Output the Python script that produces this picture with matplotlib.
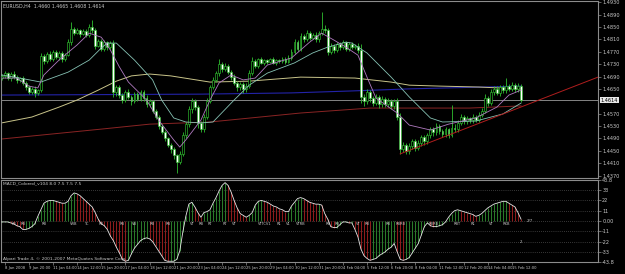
import matplotlib
matplotlib.use('Agg')
from matplotlib import pyplot as plt
from matplotlib.transforms import blended_transform_factory

# EURUSD H4, 8 Jan - 15 Feb 2008, closes
closes = [1.4692, 1.4701, 1.4685, 1.4698, 1.4688, 1.4679, 1.4685, 1.4668, 1.4655, 1.4640,
          1.4650, 1.4636, 1.4645, 1.4755, 1.4740, 1.4762, 1.4748, 1.4770, 1.4752, 1.4765,
          1.4745, 1.4760, 1.4800, 1.4845, 1.4832, 1.4840, 1.4828, 1.4836, 1.4825, 1.4850,
          1.4840, 1.4790, 1.4805, 1.4780, 1.4800, 1.4785, 1.4798, 1.4640, 1.4655, 1.4630,
          1.4615, 1.4640, 1.4625, 1.4610, 1.4632, 1.4618, 1.4640, 1.4622, 1.4600, 1.4610,
          1.4580, 1.4560, 1.4530, 1.4510, 1.4490, 1.4470, 1.4455, 1.4435, 1.4415, 1.4440,
          1.4500, 1.4535, 1.4585, 1.4610, 1.4590, 1.4540, 1.4520, 1.4560, 1.4610, 1.4655,
          1.4680, 1.4700, 1.4730, 1.4715, 1.4725, 1.4705, 1.4690, 1.4670, 1.4655, 1.4665,
          1.4648, 1.4660, 1.4700, 1.4740, 1.4725, 1.4745, 1.4735, 1.4742, 1.4738, 1.4745,
          1.4735, 1.4742, 1.4740, 1.4748, 1.4738, 1.4750, 1.4770, 1.4800, 1.4780, 1.4820,
          1.4810, 1.4830, 1.4815, 1.4825, 1.4810, 1.4830, 1.4845, 1.4840, 1.4770, 1.4790,
          1.4775, 1.4795, 1.4785, 1.4800, 1.4780, 1.4795, 1.4785, 1.4790, 1.4775, 1.4625,
          1.4610, 1.4640, 1.4620, 1.4605, 1.4625, 1.4600, 1.4618, 1.4600, 1.4612, 1.4595,
          1.4610, 1.4560, 1.4455, 1.4470, 1.4450, 1.4465, 1.4480, 1.4460, 1.4475, 1.4495,
          1.4480, 1.4500, 1.4520, 1.4510, 1.4530, 1.4515, 1.4505, 1.4520, 1.4500, 1.4525,
          1.4520, 1.4540, 1.4560, 1.4545, 1.4555, 1.4548, 1.4560, 1.4550, 1.4565, 1.4580,
          1.4620, 1.4605, 1.4640, 1.4650, 1.4638, 1.4655, 1.4645, 1.4660, 1.4650, 1.4662,
          1.4648, 1.4660, 1.4614]
first_open = 1.4685
# wick lengths in pips
upper_wick = [6, 8, 5, 7, 9, 6, 5, 8, 6, 7,
              5, 8, 6, 10, 8, 6, 9, 7, 6, 8,
              7, 5, 12, 20, 6, 8, 5, 7, 6, 9,
              21, 8, 7, 6, 9, 5, 8, 10, 7, 6,
              8, 5, 9, 6, 7, 8, 6, 5, 7, 6,
              5, 6, 4, 5, 6, 4, 5, 6, 5, 8,
              10, 8, 9, 12, 7, 8, 6, 9, 10, 8,
              9, 8, 15, 6, 9, 7, 6, 8, 7, 6,
              8, 9, 10, 12, 6, 5, 7, 4, 6, 5,
              7, 5, 6, 4, 6, 8, 9, 12, 7, 10,
              8, 9, 6, 7, 8, 6, 52, 10, 8, 7,
              6, 8, 5, 7, 6, 8, 5, 6, 7, 20,
              8, 10, 6, 7, 9, 6, 8, 5, 7, 6,
              8, 9, 12, 8, 6, 9, 7, 8, 10, 6,
              7, 9, 8, 6, 9, 7, 6, 8, 5, 72,
              10, 8, 9, 6, 7, 5, 8, 6, 9, 8,
              12, 7, 10, 8, 9, 6, 8, 25, 7, 9,
              6, 8, 5]
lower_wick = [5, 7, 6, 8, 5, 9, 6, 7, 10, 8,
              6, 12, 7, 5, 9, 6, 8, 7, 6, 9,
              8, 6, 5, 7, 8, 6, 9, 5, 7, 6,
              8, 10, 6, 9, 7, 8, 6, 15, 12, 8,
              10, 7, 9, 11, 6, 8, 7, 10, 9, 8,
              9, 8, 10, 7, 9, 8, 12, 10, 37, 9,
              8, 10, 7, 12, 9, 15, 10, 8, 6, 7,
              6, 8, 7, 9, 6, 8, 10, 9, 12, 8,
              10, 7, 6, 5, 7, 6, 5, 7, 6, 5,
              6, 7, 5, 6, 7, 5, 6, 7, 8, 6,
              7, 6, 8, 5, 9, 7, 6, 8, 10, 7,
              8, 6, 9, 7, 6, 8, 7, 6, 9, 20,
              15, 9, 12, 10, 8, 11, 9, 10, 8, 9,
              10, 12, 15, 10, 12, 9, 8, 11, 9, 8,
              10, 8, 9, 11, 8, 10, 9, 12, 8, 7,
              9, 8, 7, 10, 8, 9, 7, 8, 6, 7,
              8, 10, 7, 9, 8, 10, 7, 9, 8, 6,
              9, 7, 6]

# moving averages (bar index, price)
ma_fast_i = [0, 5, 9, 12, 14, 19, 25, 29, 33, 36, 39, 42, 48, 52, 57, 59, 61, 66, 69, 72,
             76, 80, 84, 88, 96, 102, 106, 110, 114, 118, 121, 124, 131, 135, 142, 148, 157, 164, 168, 172]
ma_fast_p = [1.4685, 1.4685, 1.4659, 1.4653, 1.4695, 1.4743, 1.4792, 1.4830, 1.4817, 1.4776,
             1.4721, 1.4672, 1.4614, 1.4549, 1.4485, 1.4462, 1.4485, 1.4549, 1.4614, 1.4669,
             1.4695, 1.4679, 1.4685, 1.4727, 1.4750, 1.4801, 1.4830, 1.4808, 1.4785, 1.4759,
             1.4688, 1.4620, 1.4572, 1.4533, 1.4517, 1.4536, 1.4556, 1.4591, 1.4630, 1.4646]
ma_mid_i = [0, 6, 13, 22, 29, 33, 35, 38, 44, 50, 53, 57, 61, 66, 70, 77, 82, 88, 97, 103,
            108, 114, 116, 121, 129, 135, 142, 146, 157, 166, 172]
ma_mid_p = [1.4695, 1.4685, 1.4672, 1.4704, 1.4743, 1.4782, 1.4798, 1.4798, 1.4743, 1.4679,
            1.4614, 1.4556, 1.4543, 1.4540, 1.4543, 1.4614, 1.4662, 1.4701, 1.4734, 1.4766,
            1.4785, 1.4801, 1.4798, 1.4766, 1.4688, 1.4624, 1.4556, 1.4543, 1.4546, 1.4569, 1.4604]
ma_slow_i = [0, 10, 19, 25, 32, 38, 43, 49, 56, 69, 82, 99, 117, 129, 135, 145, 158, 172]
ma_slow_p = [1.4540, 1.4559, 1.4591, 1.4614, 1.4646, 1.4675, 1.4692, 1.4698, 1.4692, 1.4672,
             1.4675, 1.4688, 1.4685, 1.4672, 1.4662, 1.4659, 1.4656, 1.4650]
ma_long_i = [0, 33, 49, 69, 99, 122, 135, 155, 172]
ma_long_p = [1.4488, 1.4520, 1.4536, 1.4543, 1.4572, 1.4588, 1.4588, 1.4588, 1.4595]
ma_blue_i = [0, 66, 96, 115, 135, 172]
ma_blue_p = [1.4630, 1.4633, 1.4637, 1.4643, 1.4650, 1.4659]
trend_i = [132, 197.5]
trend_p = [1.4440, 1.4688]
bid = 1.4614

price_ticks = [1.4930, 1.4890, 1.4850, 1.4810, 1.4770, 1.4730, 1.4690, 1.4650,
               1.4570, 1.4530, 1.4490, 1.4450, 1.4410, 1.4370]

macd = [-1, -1, -1, -2, -3, -5, -6, -9, -9, -8,
        -6, -3, 5, 12, 19, 21, 22, 22, 21, 20,
        19, 19, 21, 27, 30, 29, 27, 24, 21, 18,
        15, 9, 2, -3, -5, -9, -16, -21, -28, -34,
        -41, -43, -42, -35, -29, -25, -21, -19, -18, -19,
        -22, -27, -32, -37, -42, -43, -43, -43, -41, -32,
        -12, 5, 18, 20, 15, 9, 4, 9, 10, 12,
        19, 25, 32, 38, 41, 38, 31, 22, 14, 8,
        6, 4, 6, 9, 17, 21, 22, 21, 20, 18,
        16, 15, 13, 12, 10, 10, 16, 20, 24, 25,
        24, 22, 20, 19, 18, 18, 17, 8, 2, -6,
        -7, -7, -4, -1, -1, -2, -2, -9, -17, -30,
        -37, -40, -42, -41, -40, -37, -35, -33, -30, -28,
        -24, -33, -41, -42, -41, -39, -34, -29, -24, -15,
        -6, -2, -5, -6, -6, -5, -4, -1, 4, 8,
        11, 12, 11, 10, 9, 8, 7, 5, 6, 8,
        11, 14, 16, 18, 19, 20, 21, 21, 19, 17,
        15, 9, 2]
macd_levels = [33, 22, 11, 0, -11, -22, -33]
tag_i = [4, 7, 14, 24, 28, 33, 40, 44, 50, 55, 63, 66, 69, 74, 77, 87, 92, 95, 99,
         108, 111, 118, 121, 128, 132, 143, 151, 156, 162, 167]
tag_s = ['2B', 'RB', 'RB', 'VRB', 'TC', 'RB', 'RB', 'VB', 'RB', 'RB', 'VT', 'RB', 'RT', 'RT', 'VT',
         'VTTCV1', 'R1', 'V1', 'VTRB', 'RB', 'RB', 'VT', 'RB', 'RB', 'RBRB', 'RBRB', 'RBT', 'R1',
         'VT', 'RXB']

date_labels = ['8 Jan 2008', '9 Jan 20:00', '11 Jan 04:00', '14 Jan 12:00', '15 Jan 20:00',
               '17 Jan 04:00', '18 Jan 12:00', '21 Jan 20:00', '23 Jan 04:00', '24 Jan 12:00',
               '25 Jan 20:00', '29 Jan 04:00', '30 Jan 12:00', '31 Jan 20:00', '4 Feb 04:00',
               '5 Feb 12:00', '6 Feb 20:00', '8 Feb 04:00', '11 Feb 12:00', '12 Feb 20:00',
               '14 Feb 04:00', '15 Feb 12:00']

axcol = '#8c8c8c'
txtcol = '#c8c8c8'
green = '#2fbf2f'

fig = plt.figure(figsize=(6.25, 2.74), dpi=100, facecolor='black')
ax = fig.add_axes([1/625, 1-178/274, 597/625, 177/274], facecolor='black')
ax2 = fig.add_axes([1/625, 12/274, 597/625, 82/274], facecolor='black')

opens = [first_open] + closes[:-1]
for i in range(len(closes)):
    o = opens[i]
    c = closes[i]
    hi = max(o, c) + upper_wick[i]*0.0001
    lo = min(o, c) - lower_wick[i]*0.0001
    ax.vlines(i, lo, hi, color=green, lw=0.6, zorder=3)
    body = 'white' if c < o else 'black'
    h = c - o
    if abs(h) < 0.00005:
        h = 0.00005
    ax.bar(i, h, bottom=o, width=0.62, color=body, edgecolor=green, linewidth=0.45, zorder=4)

ax.axhline(bid, color='#9a9a9a', lw=0.6, zorder=1)
ax.plot(ma_long_i, ma_long_p, color='#8a2424', lw=0.7, zorder=2)
ax.plot(ma_blue_i, ma_blue_p, color='#2323a8', lw=0.8, zorder=2)
ax.plot(ma_slow_i, ma_slow_p, color='#c9c48a', lw=0.7, zorder=2)
ax.plot(ma_mid_i, ma_mid_p, color='#86c2b4', lw=0.6, zorder=5)
ax.plot(ma_fast_i, ma_fast_p, color='#b07ac0', lw=0.6, zorder=5)
ax.plot(trend_i, trend_p, color='#b01e1e', lw=0.7, zorder=6)

ax.set_xlim(-0.2, 197.5)
ax.set_ylim(1.4362, 1.4934)
ax.set_xticks([])
ax.yaxis.tick_right()
ax.set_yticks(price_ticks)
ax.set_yticklabels(['%.4f' % p for p in price_ticks])
ax.tick_params(axis='y', colors=axcol, labelcolor=txtcol, labelsize=3.6, length=2, width=0.5, pad=1)
for s in ax.spines.values():
    s.set_color(axcol)
    s.set_linewidth(0.8)
tr = blended_transform_factory(ax.transAxes, ax.transData)
ax.text(1.004, bid, '%.4f' % bid, transform=tr, fontsize=3.6, color='black', va='center', ha='left',
        bbox=dict(boxstyle='square,pad=0.15', fc='#e8e8e8', ec='none'), clip_on=False, zorder=10)
ax.text(0.004, 0.985, 'EURUSD,H4  1.4660 1.4665 1.4608 1.4614', transform=ax.transAxes,
        fontsize=3.4, color=txtcol, va='top', ha='left')

# MACD panel
for i in range(len(macd)):
    prev = macd[i-1] if i > 0 else macd[i]
    col = '#2a7a2a' if macd[i] >= prev else '#8e1c1c'
    ax2.vlines(i, 0, macd[i], color=col, lw=0.75, zorder=2)
ax2.plot(range(len(macd)), macd, color='#e6e6e6', lw=0.6, zorder=3)
for lv in macd_levels:
    ax2.axhline(lv, color='#6a6a6a', lw=0.5, ls=(0, (1, 2)), zorder=1)
for i, s in zip(tag_i, tag_s):
    ax2.text(i, -1.5, s, fontsize=2.6, color=txtcol, ha='center', va='top', zorder=4)
ax2.text(174, 0, '2/7', fontsize=2.8, color=txtcol, ha='left', va='center')
ax2.text(172, -22, '2', fontsize=2.8, color=txtcol, ha='center', va='center')
ax2.text(0.004, 0.985, 'MACD_Colored_v104 8.0 7.5 7.5 7.5', transform=ax2.transAxes,
         fontsize=3.2, color=txtcol, va='top', ha='left')
ax2.text(0.004, 0.015, 'Alpari Trade 4, \u00a9 2001-2007 MetaQuotes Software Corp.', transform=ax2.transAxes,
         fontsize=3.2, color=txtcol, va='bottom', ha='left')

ax2.set_xlim(-0.2, 197.5)
ax2.set_ylim(-43.8, 43.8)
ax2.yaxis.tick_right()
yt = [43.8] + macd_levels + [-43.8]
ax2.set_yticks(yt)
ax2.set_yticklabels(['43.8', '33', '22', '11', '0.00', '-11', '-22', '-33', '-43.8'])
ax2.tick_params(axis='y', colors=axcol, labelcolor=txtcol, labelsize=3.6, length=2, width=0.5, pad=1)
ax2.set_xticks([1 + 8*k for k in range(len(date_labels))])
ax2.set_xticklabels(date_labels, ha='left')
ax2.tick_params(axis='x', colors=axcol, labelcolor=txtcol, labelsize=2.7, length=2, width=0.5, pad=1)
for s in ax2.spines.values():
    s.set_color(axcol)
    s.set_linewidth(0.8)

plt.savefig('out.png', dpi=100, facecolor='black')
plt.close()
